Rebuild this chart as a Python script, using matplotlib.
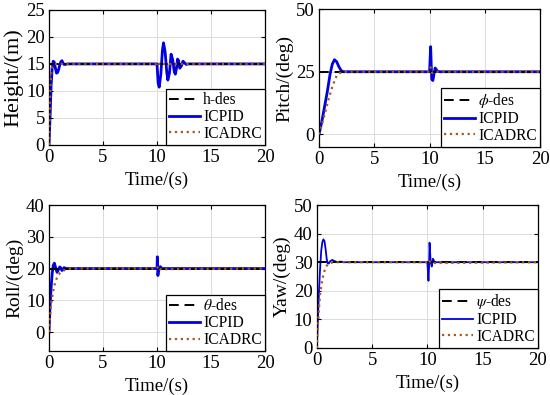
import matplotlib
matplotlib.use("Agg")
import matplotlib.pyplot as plt

plt.rcParams['font.family'] = ['Liberation Serif', 'DejaVu Serif']
plt.rcParams['mathtext.fontset'] = 'stix'

# ---- data ----
t_end = 20

# Height
h_des = 15
h_pid_t = [0, 0.1, 0.2, 0.3, 0.4, 0.5, 0.6, 0.7, 0.8, 0.9, 1.0, 1.1, 1.2, 1.3, 1.4, 1.5, 1.7,
           10.0, 10.1, 10.2, 10.35, 10.5, 10.6, 10.75, 10.9, 11.0, 11.15, 11.3, 11.45, 11.6, 11.7,
           11.8, 11.9, 12.0, 12.1, 12.25, 12.4, 12.55, 12.7, 12.9, 20]
h_pid_y = [0, 5, 11, 14.2, 15.5, 15.3, 14.2, 13.3, 13.4, 14.0, 14.8, 15.4, 15.6, 15.2, 14.9, 14.9, 15,
           15, 11.5, 10.7, 13.0, 17.5, 18.9, 17.2, 13.5, 12.0, 13.3, 16.8, 15.8, 13.5, 13.1,
           14.2, 15.9, 15.6, 14.2, 14.6, 15.5, 15.2, 14.9, 15, 15]
h_adrc_t = [0, 0.05, 0.1, 0.15, 0.2, 0.3, 0.4, 0.5, 10.0, 10.1, 10.25, 10.4, 20]
h_adrc_y = [0, 4, 8, 11, 13, 14.5, 14.9, 15, 15, 15.4, 14.8, 15, 15]

# Pitch
p_des = 25
p_pid_t = [0, 0.25, 0.5, 0.75, 1.0, 1.2, 1.4, 1.6, 1.8, 2.0, 2.2, 2.5,
           10.0, 10.05, 10.1, 10.15, 10.2, 10.3, 10.4, 10.5, 10.6, 10.7, 10.9, 20]
p_pid_y = [0, 5, 11, 17, 24, 28, 29.8, 29, 27, 25.5, 25, 25,
           25, 30, 35, 28, 22, 21.5, 24, 26.5, 26, 25.2, 25, 25]
p_adrc_t = [0, 0.4, 0.8, 1.2, 1.6, 2.0, 2.3, 10.0, 10.1, 10.25, 10.4, 20]
p_adrc_y = [0, 6, 13, 19, 23.5, 24.8, 25, 25, 26.8, 24.5, 25, 25]

# Roll
r_des = 20
r_pid_t = [0, 0.1, 0.2, 0.3, 0.4, 0.5, 0.6, 0.75, 0.9, 1.0, 1.1, 1.2, 1.3, 1.4, 1.5, 1.7,
           10.0, 10.03, 10.08, 10.15, 10.3, 10.45, 20]
r_pid_y = [0, 8, 14, 18.5, 21, 21.7, 20.5, 18.8, 19.8, 20.5, 20.2, 19.4, 19.7, 20.3, 20.1, 20,
           20, 23.7, 17.8, 19.5, 20.6, 20, 20]
r_adrc_t = [0, 0.2, 0.4, 0.6, 0.8, 1.0, 1.3, 1.6, 2.0, 10.0, 10.1, 10.25, 20]
r_adrc_y = [0, 9, 13, 16, 17.5, 18.5, 19.3, 19.7, 20, 20, 20.8, 19.8, 20]

# Yaw
y_des = 30
y_pid_t = [0, 0.1, 0.2, 0.3, 0.4, 0.5, 0.6, 0.7, 0.8, 0.9, 1.0, 1.1, 1.2, 1.4, 1.6, 1.8, 2.2, 2.5,
           10.0, 10.1, 10.15, 10.2, 10.3, 10.4, 10.5, 10.6, 10.7, 10.8, 20]
y_pid_y = [0, 10, 20, 28, 34, 37, 38, 37.3, 34.5, 31, 29.5, 29.6, 30.3, 30.8, 30.4, 30.1, 30.2, 30,
           30, 23.5, 28, 36.8, 30, 28.5, 31.2, 30.5, 29.8, 30, 30]
y_adrc_t = [0, 0.1, 0.2, 0.3, 0.5, 0.7, 0.9, 1.1, 1.4, 1.7, 10.0, 10.15, 10.3, 20]
y_adrc_y = [0, 8, 14, 19, 24, 27, 28.8, 29.5, 29.9, 30, 30, 30.8, 29.7, 30]

panels = [
    dict(pos=[0.089, 0.633, 0.393, 0.342], ylim=(0, 25), yticks=[0, 5, 10, 15, 20, 25],
         ylabel='Height/(m)', ylsize=16, des=h_des, des_label='h-des',
         pid=(h_pid_t, h_pid_y), adrc=(h_adrc_t, h_adrc_y), pid_lw=2.0),
    dict(pos=[0.580, 0.628, 0.402, 0.349], ylim=(-5, 50), yticks=[0, 25, 50],
         ylabel='Pitch/(deg)', ylsize=14, des=p_des, des_label=r'$\phi$-des',
         pid=(p_pid_t, p_pid_y), adrc=(p_adrc_t, p_adrc_y), pid_lw=2.0),
    dict(pos=[0.089, 0.111, 0.393, 0.370], ylim=(-6, 40), yticks=[0, 10, 20, 30, 40],
         ylabel='Roll/(deg)', ylsize=14, des=r_des, des_label=r'$\theta$-des',
         pid=(r_pid_t, r_pid_y), adrc=(r_adrc_t, r_adrc_y), pid_lw=2.0),
    dict(pos=[0.576, 0.119, 0.402, 0.362], ylim=(0, 50), yticks=[0, 10, 20, 30, 40, 50],
         ylabel='Yaw/(deg)', ylsize=14, des=y_des, des_label=r'$\psi$-des',
         pid=(y_pid_t, y_pid_y), adrc=(y_adrc_t, y_adrc_y), pid_lw=1.3),
]

blue = '#0000E0'
brown = '#A85A1E'

fig = plt.figure(figsize=(5.5, 3.95), dpi=100)

for p in panels:
    ax = fig.add_axes(p['pos'])
    ax.plot([0, t_end], [p['des'], p['des']], color='black', linestyle=(0, (5, 3)),
            linewidth=1.4, label=p['des_label'], zorder=3)
    ax.plot(p['pid'][0], p['pid'][1], color=blue, linewidth=p['pid_lw'], label='ICPID', zorder=2)
    ax.plot(p['adrc'][0], p['adrc'][1], color=brown, linestyle=':', linewidth=1.6,
            label='ICADRC', zorder=4)
    ax.set_xlim(0, t_end)
    ax.set_ylim(*p['ylim'])
    ax.set_xticks([0, 5, 10, 15, 20])
    ax.set_yticks(p['yticks'])
    ax.grid(True, color='#dcdcdc', linewidth=0.7)
    ax.set_axisbelow(True)
    ax.tick_params(direction='in', top=True, right=True, labelsize=13.5, length=3, pad=3)
    for s in ax.spines.values():
        s.set_linewidth(0.9)
    ax.set_xlabel('Time/(s)', fontsize=13.5, labelpad=4)
    ax.set_ylabel(p['ylabel'], fontsize=p['ylsize'], labelpad=2)
    leg = ax.legend(loc='lower right', fontsize=11.2, frameon=True, fancybox=False,
                    edgecolor='black', framealpha=1, borderaxespad=0, handlelength=2.0,
                    handletextpad=0.2, labelspacing=0.05, borderpad=0.2)
    leg.get_frame().set_linewidth(0.9)

fig.savefig('out.png', dpi=100)
